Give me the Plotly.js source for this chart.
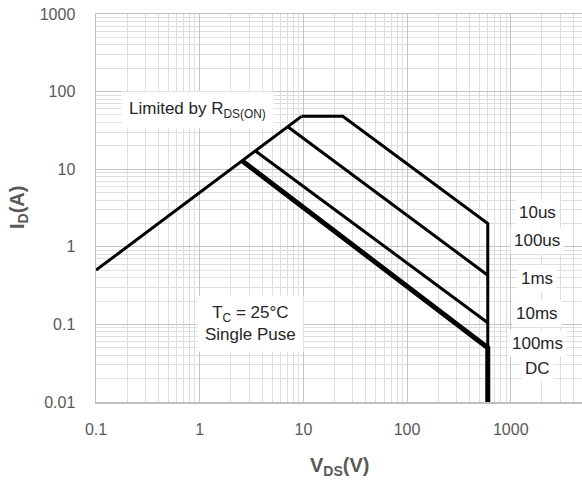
<!DOCTYPE html>
<html>
<head>
<meta charset="utf-8">
<script src="https://cdn.plot.ly/plotly-3.0.1.min.js"></script>
<style>
  html, body { margin: 0; padding: 0; background: #ffffff; }
  #soa { width: 582px; height: 481px; }
</style>
</head>
<body>
<div id="soa"></div>
<script>
// Safe operating area: drain current vs drain-source voltage (log-log)

// R_DS(on) limit line
const rdsVoltage = [0.1, 9.6];
const rdsCurrent = [0.5, 48];

// Pulse-width boundaries (V, A); each ends at the 600 V breakdown limit
const pulse10usVoltage = [9.6, 24, 600, 600];
const pulse10usCurrent = [48, 48, 2.0, 0.01];

const pulse100usVoltage = [7.07, 600];
const pulse100usCurrent = [35.3, 0.43];

const pulse1msVoltage = [3.45, 600];
const pulse1msCurrent = [17.2, 0.105];

const dcVoltage = [2.57, 600, 600];
const dcCurrent = [12.8, 0.05, 0.01];

// Axis ticks
const xTickVals = [0.1, 1, 10, 100, 1000];
const xTickText = ['0.1', '1', '10', '100', '1000'];
const yTickVals = [0.01, 0.1, 1, 10, 100, 1000];
const yTickText = ['0.01', '0.1', '1', '10', '100', '1000'];

// Curve labels on the right-hand side
const curveLabels = ['10us', '100us', '1ms', '10ms', '100ms', 'DC'];
const curveLabelY = [212, 241, 278, 313, 343, 368];

const W = 582, H = 481;
const M = { l: 96, r: 0, t: 14, b: 79 };
const plotW = W - M.l - M.r;
const plotH = H - M.t - M.b;
// pixel position -> paper coordinate (relative to the plot area)
const px = x => (x - M.l) / plotW;
const py = y => (H - M.b - y) / plotH;

function line(x, y, width, name) {
  return {
    x: x, y: y, type: 'scatter', mode: 'lines', name: name,
    line: { color: '#000000', width: width },
    hoverinfo: 'skip', showlegend: false
  };
}

const traces = [
  line(rdsVoltage, rdsCurrent, 3, 'RDS(on)'),
  line(pulse10usVoltage, pulse10usCurrent, 3, '10us'),
  line(pulse100usVoltage, pulse100usCurrent, 3, '100us'),
  line(pulse1msVoltage, pulse1msCurrent, 3, '1ms'),
  line(dcVoltage, dcCurrent, 5, 'DC')
];

const FAMILY = 'Liberation Sans, Arial, sans-serif';
const tickFont = { family: FAMILY, size: 16, color: '#595959' };
const labelFont = { family: FAMILY, size: 17, color: '#262626' };
const titleFont = { family: FAMILY, size: 20, color: '#595959' };

const annotations = [
  {
    text: 'Limited by R<sub>DS(ON)</sub>',
    xref: 'paper', yref: 'paper', x: px(197), y: py(110),
    showarrow: false, font: labelFont, bgcolor: '#ffffff',
    borderpad: 7, xanchor: 'center', yanchor: 'middle'
  },
  {
    text: 'T<sub>C</sub> = 25°C<br>Single Puse',
    xref: 'paper', yref: 'paper', x: px(250), y: py(323),
    showarrow: false, font: labelFont, bgcolor: '#ffffff',
    borderpad: 7, xanchor: 'center', yanchor: 'middle'
  },
  {
    text: '<b>I<sub>D</sub>(A)</b>',
    xref: 'paper', yref: 'paper', x: px(18), y: py(208),
    showarrow: false, textangle: -90, font: titleFont,
    xanchor: 'center', yanchor: 'middle'
  },
  {
    text: '<b>V<sub>DS</sub>(V)</b>',
    xref: 'paper', yref: 'paper', x: px(339), y: py(466),
    showarrow: false, font: titleFont,
    xanchor: 'center', yanchor: 'middle'
  }
];

curveLabels.forEach((t, i) => {
  annotations.push({
    text: t, xref: 'paper', yref: 'paper', x: px(537), y: py(curveLabelY[i]),
    showarrow: false, font: labelFont,
    bgcolor: '#ffffff', borderpad: 3, xanchor: 'center', yanchor: 'middle'
  });
});

const layout = {
  width: W, height: H,
  margin: M,
  paper_bgcolor: '#ffffff', plot_bgcolor: '#ffffff',
  showlegend: false,
  xaxis: {
    type: 'log', range: [-1, 3.687],
    tickmode: 'array', tickvals: xTickVals, ticktext: xTickText,
    ticks: '', ticklabelstandoff: 12,
    tickfont: tickFont,
    showgrid: true, gridcolor: '#c4c4c4', gridwidth: 1,
    minor: { dtick: 'D1', showgrid: true, gridcolor: '#dedede', gridwidth: 1, ticks: '' },
    showline: true, linecolor: '#bfbfbf', linewidth: 1.5, mirror: true,
    zeroline: false, fixedrange: true
  },
  yaxis: {
    type: 'log', range: [-2, 3],
    tickmode: 'array', tickvals: yTickVals, ticktext: yTickText,
    ticks: '', ticklabelstandoff: 16,
    tickfont: tickFont,
    showgrid: true, gridcolor: '#c4c4c4', gridwidth: 1,
    minor: { dtick: 'D1', showgrid: true, gridcolor: '#dedede', gridwidth: 1, ticks: '' },
    showline: true, linecolor: '#bfbfbf', linewidth: 1.5,
    zeroline: false, fixedrange: true
  },
  annotations: annotations
};

Plotly.newPlot('soa', traces, layout, { staticPlot: true, displayModeBar: false });
</script>
</body>
</html>
